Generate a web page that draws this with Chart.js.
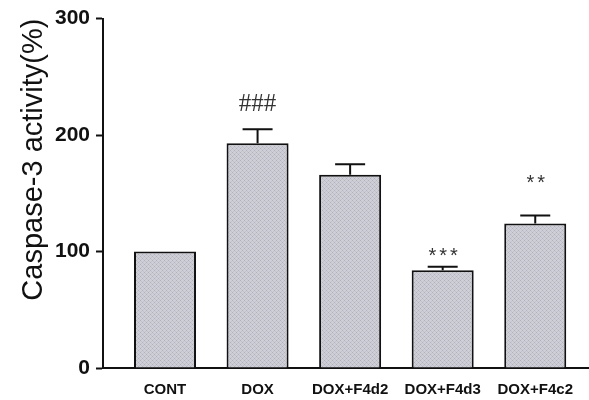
<!DOCTYPE html>
<html lang="en">
  <head>
    <meta charset="UTF-8" />
    <title>Caspase-3 activity</title>
    <script src="https://cdn.jsdelivr.net/npm/chart.js@4"></script>
    <style>
      html, body { margin: 0; padding: 0; background: #fff; }
      #wrap { width: 589px; height: 400px; }
    </style>
  </head>
  <body>
    <div id="wrap"><canvas id="myChart" width="589" height="400"></canvas></div>

    <script>
      // values
      const groups = ['CONT', 'DOX', 'DOX+F4d2', 'DOX+F4d3', 'DOX+F4c2'];
      const activity = [100, 193, 166, 84, 124];
      const errTop = [100, 205, 175, 87, 131];
      const marks = ['', '###', '', '***', '**'];
      const yTicks = [0, 100, 200, 300];

      // gap (px) between error cap and its significance mark
      const markGap = [0, 25, 0, 14, 36];

      function hatch() {
        const c = document.createElement('canvas');
        c.width = 4;
        c.height = 4;
        const g = c.getContext('2d');
        g.fillStyle = '#cfcfd8';
        g.fillRect(0, 0, 4, 4);
        g.fillStyle = '#b2b2bd';
        g.fillRect(0, 0, 1, 1);
        g.fillRect(2, 2, 1, 1);
        g.fillStyle = '#c2c2cc';
        g.fillRect(1, 1, 1, 1);
        g.fillRect(3, 3, 1, 1);
        g.fillRect(3, 1, 1, 1);
        g.fillRect(1, 3, 1, 1);
        return g.createPattern(c, 'repeat');
      }

      const extras = {
        id: 'extras',
        afterDatasetsDraw(chart) {
          const ctx = chart.ctx;
          const x = chart.scales.x;
          const y = chart.scales.y;
          ctx.save();
          ctx.strokeStyle = '#111';
          ctx.lineWidth = 2;
          groups.forEach((g, i) => {
            const cx = x.getPixelForValue(i);
            const top = y.getPixelForValue(activity[i]);
            const et = y.getPixelForValue(errTop[i]);
            if (errTop[i] > activity[i]) {
              ctx.beginPath();
              ctx.moveTo(cx, top);
              ctx.lineTo(cx, et);
              ctx.moveTo(cx - 15, et);
              ctx.lineTo(cx + 15, et);
              ctx.stroke();
            }
            if (marks[i]) {
              ctx.fillStyle = '#333';
              ctx.textAlign = 'center';
              ctx.textBaseline = 'middle';
              if (marks[i][0] === '#') {
                ctx.font = '25px "Liberation Serif", serif';
                ctx.fillText(marks[i], cx, et - markGap[i]);
              } else {
                ctx.font = '20px "Liberation Sans", Arial, sans-serif';
                ctx.letterSpacing = '3px';
                ctx.fillText(marks[i], cx + 2, et - markGap[i] + 4);
              }
            }
          });
          ctx.restore();
        }
      };

      window.addEventListener('load', setup);

      function setup() {
        const ctx = document.getElementById('myChart').getContext('2d');
        new Chart(ctx, {
          type: 'bar',
          data: {
            datasets: [
              {
                label: 'Caspase-3 activity',
                data: activity.map((v, i) => ({ x: i, y: v })),
                backgroundColor: hatch(),
                borderColor: '#111',
                borderWidth: 2,
                borderSkipped: 'bottom',
                categoryPercentage: 1,
                barPercentage: 0.67
              }
            ]
          },
          options: {
            responsive: false,
            animation: false,
            layout: { padding: { top: 4, right: 1, left: 0, bottom: 0 } },
            plugins: { legend: { display: false }, tooltip: { enabled: false } },
            scales: {
              x: {
                type: 'linear',
                offset: false,
                min: -0.67,
                max: 4.57,
                afterBuildTicks: s => { s.ticks = groups.map((g, i) => ({ value: i })); },
                afterFit: s => { s.height = 32; },
                grid: { display: false, drawTicks: false },
                border: { color: '#111', width: 2 },
                ticks: {
                  color: '#111',
                  padding: 13,
                  maxRotation: 0,
                  autoSkip: false,
                  font: { family: '"Liberation Sans", Arial', size: 15, weight: 'bold' },
                  callback: v => groups[v]
                }
              },
              y: {
                min: 0,
                max: 300,
                afterBuildTicks: s => { s.ticks = yTicks.map(v => ({ value: v })); },
                afterFit: s => { s.width = 103; },
                grid: { display: true, drawOnChartArea: false, drawTicks: true, tickLength: 7, color: '#111', tickColor: '#111', tickWidth: 2 },
                border: { color: '#111', width: 2 },
                ticks: {
                  color: '#111',
                  padding: 6,
                  font: { family: '"Liberation Sans", Arial', size: 21, weight: 'bold' }
                },
                title: {
                  display: true,
                  text: 'Caspase-3 activity(%)',
                  color: '#111',
                  align: 'end',
                  padding: { top: 17, bottom: 0 },
                  font: { family: '"Liberation Sans", Arial', size: 29 }
                }
              }
            }
          },
          plugins: [extras]
        });
      }
    </script>
  </body>
</html>
